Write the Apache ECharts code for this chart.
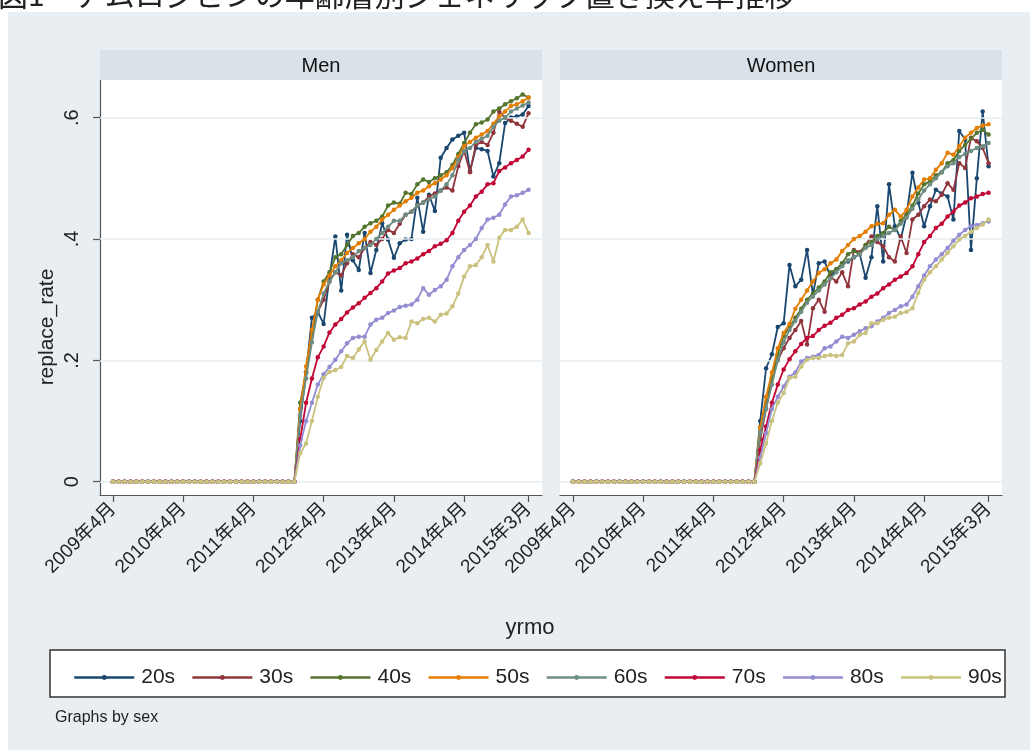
<!DOCTYPE html>
<html><head><meta charset="utf-8">
<script src="https://cdn.jsdelivr.net/npm/echarts@6/dist/echarts.min.js"></script>
<style>html,body{margin:0;padding:0;background:#fff}#c{width:1030px;height:750px}</style>
</head><body><div id="c"></div>
<script>
const titleText = "図1　アムロジピンの年齢層別ジェネリック置き換え率推移";
const panels = ["Men", "Women"];
const groups = ["20s","30s","40s","50s","60s","70s","80s","90s"];
const colors = ["#1a476f","#90353b","#55752f","#e37e00","#6e8e84","#c10534","#938dd2","#cac27e"];
const tickMonths = [0,12,24,36,48,60,71];
const tickLabels = ["2009年4月","2010年4月","2011年4月","2012年4月","2013年4月","2014年4月","2015年3月"];
const yTicks = [0,0.2,0.4,0.6];
const yTickLabels = ["0",".2",".4",".6"];
// months 0..31 (2009年4月..2011年11月): replace_rate 0
const preLaunch = [0,0,0,0,0,0,0,0,0,0,0,0,0,0,0,0,0,0,0,0,0,0,0,0,0,0,0,0,0,0,0,0];
const launchMonth = 32;
// months 32..71
const men20 = [0.10,0.18,0.27,0.28,0.26,0.338,0.404,0.315,0.407,0.365,0.349,0.41,0.344,0.382,0.426,0.399,0.369,0.393,0.399,0.40,0.468,0.412,0.473,0.446,0.534,0.55,0.564,0.57,0.575,0.512,0.55,0.548,0.545,0.503,0.525,0.591,0.60,0.602,0.605,0.619];
const men30 = [0.12,0.18,0.24,0.28,0.30,0.33,0.345,0.34,0.36,0.375,0.37,0.385,0.395,0.39,0.40,0.415,0.41,0.425,0.44,0.445,0.455,0.46,0.47,0.475,0.48,0.485,0.48,0.52,0.545,0.51,0.555,0.56,0.555,0.575,0.61,0.60,0.595,0.59,0.585,0.607];
const men40 = [0.13,0.18,0.24,0.30,0.33,0.345,0.37,0.375,0.39,0.405,0.41,0.42,0.426,0.43,0.437,0.455,0.46,0.458,0.476,0.474,0.49,0.498,0.494,0.50,0.505,0.51,0.522,0.54,0.558,0.575,0.589,0.592,0.597,0.61,0.615,0.622,0.627,0.632,0.638,0.633];
const men50 = [0.12,0.19,0.25,0.30,0.325,0.34,0.355,0.365,0.377,0.385,0.393,0.40,0.412,0.42,0.432,0.44,0.448,0.455,0.462,0.468,0.476,0.48,0.487,0.492,0.498,0.505,0.517,0.535,0.553,0.56,0.567,0.572,0.578,0.59,0.602,0.61,0.619,0.622,0.627,0.633];
const men60 = [0.11,0.17,0.23,0.28,0.31,0.33,0.345,0.36,0.365,0.37,0.38,0.385,0.39,0.40,0.41,0.42,0.43,0.43,0.44,0.445,0.455,0.46,0.465,0.47,0.48,0.49,0.505,0.53,0.545,0.55,0.56,0.565,0.57,0.585,0.595,0.60,0.61,0.615,0.62,0.625];
const men70 = [0.07,0.13,0.17,0.205,0.223,0.246,0.259,0.268,0.279,0.287,0.294,0.303,0.311,0.319,0.33,0.343,0.348,0.352,0.36,0.363,0.368,0.375,0.38,0.388,0.392,0.398,0.41,0.43,0.445,0.455,0.47,0.478,0.49,0.492,0.512,0.518,0.525,0.53,0.536,0.547];
const men80 = [0.06,0.10,0.13,0.16,0.177,0.189,0.201,0.215,0.228,0.237,0.239,0.239,0.259,0.267,0.27,0.278,0.282,0.288,0.29,0.292,0.30,0.319,0.308,0.316,0.322,0.333,0.355,0.37,0.382,0.39,0.40,0.418,0.432,0.435,0.44,0.457,0.47,0.472,0.476,0.481];
const men90 = [0.047,0.063,0.10,0.14,0.171,0.181,0.184,0.189,0.207,0.204,0.218,0.231,0.201,0.217,0.231,0.245,0.234,0.238,0.237,0.264,0.261,0.268,0.27,0.264,0.275,0.277,0.289,0.31,0.338,0.355,0.357,0.37,0.39,0.363,0.402,0.415,0.415,0.42,0.432,0.41];
const women20 = [0.10,0.187,0.21,0.255,0.261,0.357,0.322,0.333,0.382,0.308,0.36,0.363,0.338,0.35,0.36,0.363,0.37,0.375,0.336,0.37,0.454,0.363,0.49,0.421,0.40,0.44,0.509,0.46,0.421,0.454,0.481,0.475,0.47,0.432,0.578,0.564,0.382,0.50,0.61,0.52];
const women30 = [0.07,0.12,0.17,0.20,0.22,0.237,0.25,0.265,0.226,0.286,0.30,0.28,0.338,0.33,0.345,0.322,0.382,0.378,0.39,0.404,0.395,0.388,0.37,0.363,0.404,0.377,0.432,0.44,0.454,0.465,0.462,0.473,0.492,0.481,0.525,0.517,0.567,0.561,0.55,0.525];
const women40 = [0.09,0.13,0.17,0.21,0.24,0.255,0.27,0.285,0.30,0.31,0.32,0.33,0.345,0.35,0.36,0.375,0.38,0.375,0.39,0.395,0.405,0.41,0.42,0.415,0.43,0.44,0.455,0.475,0.49,0.495,0.505,0.51,0.525,0.53,0.545,0.555,0.565,0.575,0.58,0.572];
const women50 = [0.09,0.14,0.18,0.22,0.245,0.26,0.285,0.30,0.315,0.33,0.344,0.35,0.36,0.366,0.38,0.39,0.40,0.405,0.412,0.421,0.425,0.426,0.44,0.448,0.437,0.448,0.47,0.485,0.498,0.50,0.514,0.525,0.542,0.539,0.553,0.567,0.575,0.583,0.587,0.589];
const women60 = [0.08,0.12,0.16,0.20,0.23,0.25,0.265,0.28,0.295,0.305,0.315,0.325,0.335,0.345,0.355,0.365,0.37,0.375,0.385,0.39,0.40,0.405,0.41,0.415,0.425,0.435,0.45,0.465,0.48,0.49,0.50,0.51,0.52,0.525,0.535,0.54,0.545,0.55,0.553,0.558];
const women70 = [0.052,0.091,0.13,0.16,0.185,0.202,0.215,0.227,0.237,0.24,0.25,0.257,0.262,0.27,0.275,0.283,0.286,0.292,0.297,0.305,0.31,0.319,0.325,0.333,0.338,0.344,0.355,0.375,0.395,0.405,0.418,0.425,0.437,0.445,0.455,0.46,0.467,0.47,0.474,0.476];
const women80 = [0.04,0.08,0.12,0.14,0.157,0.173,0.18,0.198,0.204,0.206,0.209,0.22,0.223,0.231,0.239,0.237,0.242,0.248,0.253,0.256,0.264,0.27,0.278,0.283,0.289,0.292,0.305,0.322,0.34,0.355,0.366,0.375,0.385,0.397,0.407,0.415,0.421,0.423,0.426,0.429];
const women90 = [0.03,0.063,0.10,0.13,0.146,0.171,0.173,0.19,0.201,0.204,0.204,0.207,0.209,0.207,0.209,0.228,0.231,0.242,0.245,0.261,0.261,0.267,0.27,0.272,0.278,0.28,0.286,0.311,0.333,0.345,0.355,0.366,0.377,0.388,0.399,0.405,0.412,0.418,0.424,0.432];

const panelData = [
  [men20,men30,men40,men50,men60,men70,men80,men90],
  [women20,women30,women40,women50,women60,women70,women80,women90]
];

const FONT = '"Liberation Sans", Arial, "Noto Sans CJK JP", sans-serif';
const gridLefts = [100, 560];
const gridW = 442, gridTop = 80, gridH = 415;
const stripTop = 50, stripH = 30;

function toPoints(arr) {
  const pts = [];
  preLaunch.forEach((v, i) => pts.push([i, v]));
  arr.forEach((v, i) => pts.push([launchMonth + i, v]));
  return pts;
}

const grids = [], xAxes = [], yAxes = [], series = [];
panels.forEach((p, pi) => {
  grids.push({left: gridLefts[pi], top: gridTop, width: gridW, height: gridH, show: true, backgroundColor: '#ffffff', borderWidth: 0, containLabel: false});
  xAxes.push({
    type: 'value', gridIndex: pi, min: -2.2, max: 73.3,
    axisLine: {show: true, onZero: false, lineStyle: {color: '#555', width: 1.2}},
    axisTick: {show: true, customValues: tickMonths, length: 7, lineStyle: {color: '#555', width: 1.2}},
    axisLabel: {show: true, customValues: tickMonths, rotate: 45, margin: 11, fontSize: 19, color: '#222', fontFamily: FONT,
      formatter: v => { const k = tickMonths.indexOf(Math.round(v)); return k >= 0 ? tickLabels[k] : ''; }},
    splitLine: {show: false}
  });
  yAxes.push({
    type: 'value', gridIndex: pi, min: -0.0219, max: 0.662,
    axisLine: {show: pi === 0, onZero: false, lineStyle: {color: '#555', width: 1.2}},
    axisTick: {show: pi === 0, customValues: yTicks, length: 7, lineStyle: {color: '#555', width: 1.2}},
    axisLabel: {show: pi === 0, customValues: yTicks, rotate: 90, margin: 18, fontSize: 20, color: '#222', fontFamily: FONT,
      formatter: v => { const k = yTicks.findIndex(t => Math.abs(t - v) < 1e-6); return k >= 0 ? yTickLabels[k] : ''; }},
    splitLine: {show: false}
  });
  // gridlines
  series.push({
    type: 'line', xAxisIndex: pi, yAxisIndex: pi, data: [], silent: true, z: 1,
    markLine: {silent: true, symbol: ['none','none'], label: {show: false},
      lineStyle: {color: '#e6eef1', width: 1.5, type: 'solid'},
      data: yTicks.map(t => ({yAxis: t}))}
  });
  groups.forEach((g, gi) => {
    series.push({
      name: g, type: 'line', xAxisIndex: pi, yAxisIndex: pi,
      data: toPoints(panelData[pi][gi]),
      symbol: 'circle', symbolSize: 4.5, showSymbol: true,
      lineStyle: {color: colors[gi], width: 1.8},
      itemStyle: {color: colors[gi]},
      emphasis: {disabled: true}, animation: false, z: 3 + gi
    });
  });
});

const graphics = [
  {type: 'rect', shape: {x: 0, y: 0, width: 1030, height: 12}, style: {fill: '#ffffff'}, z: -5},
  {type: 'rect', shape: {x: 0, y: 0, width: 8, height: 750}, style: {fill: '#ffffff'}, z: -5},
  {type: 'text', x: -2, y: -20, style: {text: titleText, font: '30px "Noto Sans CJK JP"', fill: '#222', verticalAlign: 'top'}, z: 1},
  {type: 'rect', shape: {x: 50, y: 650, width: 955, height: 47}, style: {fill: '#ffffff', stroke: '#333', lineWidth: 1.5}, z: 1},
  {type: 'text', x: 55, y: 718, style: {text: 'Graphs by sex', font: '16px ' + FONT, fill: '#222', verticalAlign: 'middle'}, z: 1},
  {type: 'text', x: 530, y: 628, style: {text: 'yrmo', font: '22px ' + FONT, fill: '#222', align: 'center', verticalAlign: 'middle'}, z: 1},
  {type: 'text', x: 47, y: 327, rotation: Math.PI / 2, style: {text: 'replace_rate', font: '21px ' + FONT, fill: '#222', align: 'center', verticalAlign: 'middle'}, z: 1}
];
panels.forEach((p, pi) => {
  graphics.push({type: 'rect', shape: {x: gridLefts[pi], y: stripTop, width: gridW, height: stripH}, style: {fill: '#d8e2e8'}, z: 1});
  graphics.push({type: 'text', x: gridLefts[pi] + gridW / 2, y: stripTop + stripH / 2 + 1, style: {text: p, font: '20px ' + FONT, fill: '#111', align: 'center', verticalAlign: 'middle'}, z: 2});
});

const chart = echarts.init(document.getElementById('c'), null, {renderer: 'canvas'});
chart.setOption({
  backgroundColor: '#e8eef1',
  animation: false,
  textStyle: {fontFamily: FONT},
  grid: grids, xAxis: xAxes, yAxis: yAxes, series: series,
  graphic: graphics,
  legend: {
    data: groups, left: 68, top: 662, width: 1000, orient: 'horizontal',
    itemWidth: 60, itemHeight: 6, itemGap: 16,
    itemStyle: {borderWidth: 0},
    lineStyle: {width: 2.5},
    textStyle: {fontSize: 21, color: '#222', fontFamily: FONT, padding: [0,0,0,2]},
    selectedMode: false
  }
});
</script></body></html>
